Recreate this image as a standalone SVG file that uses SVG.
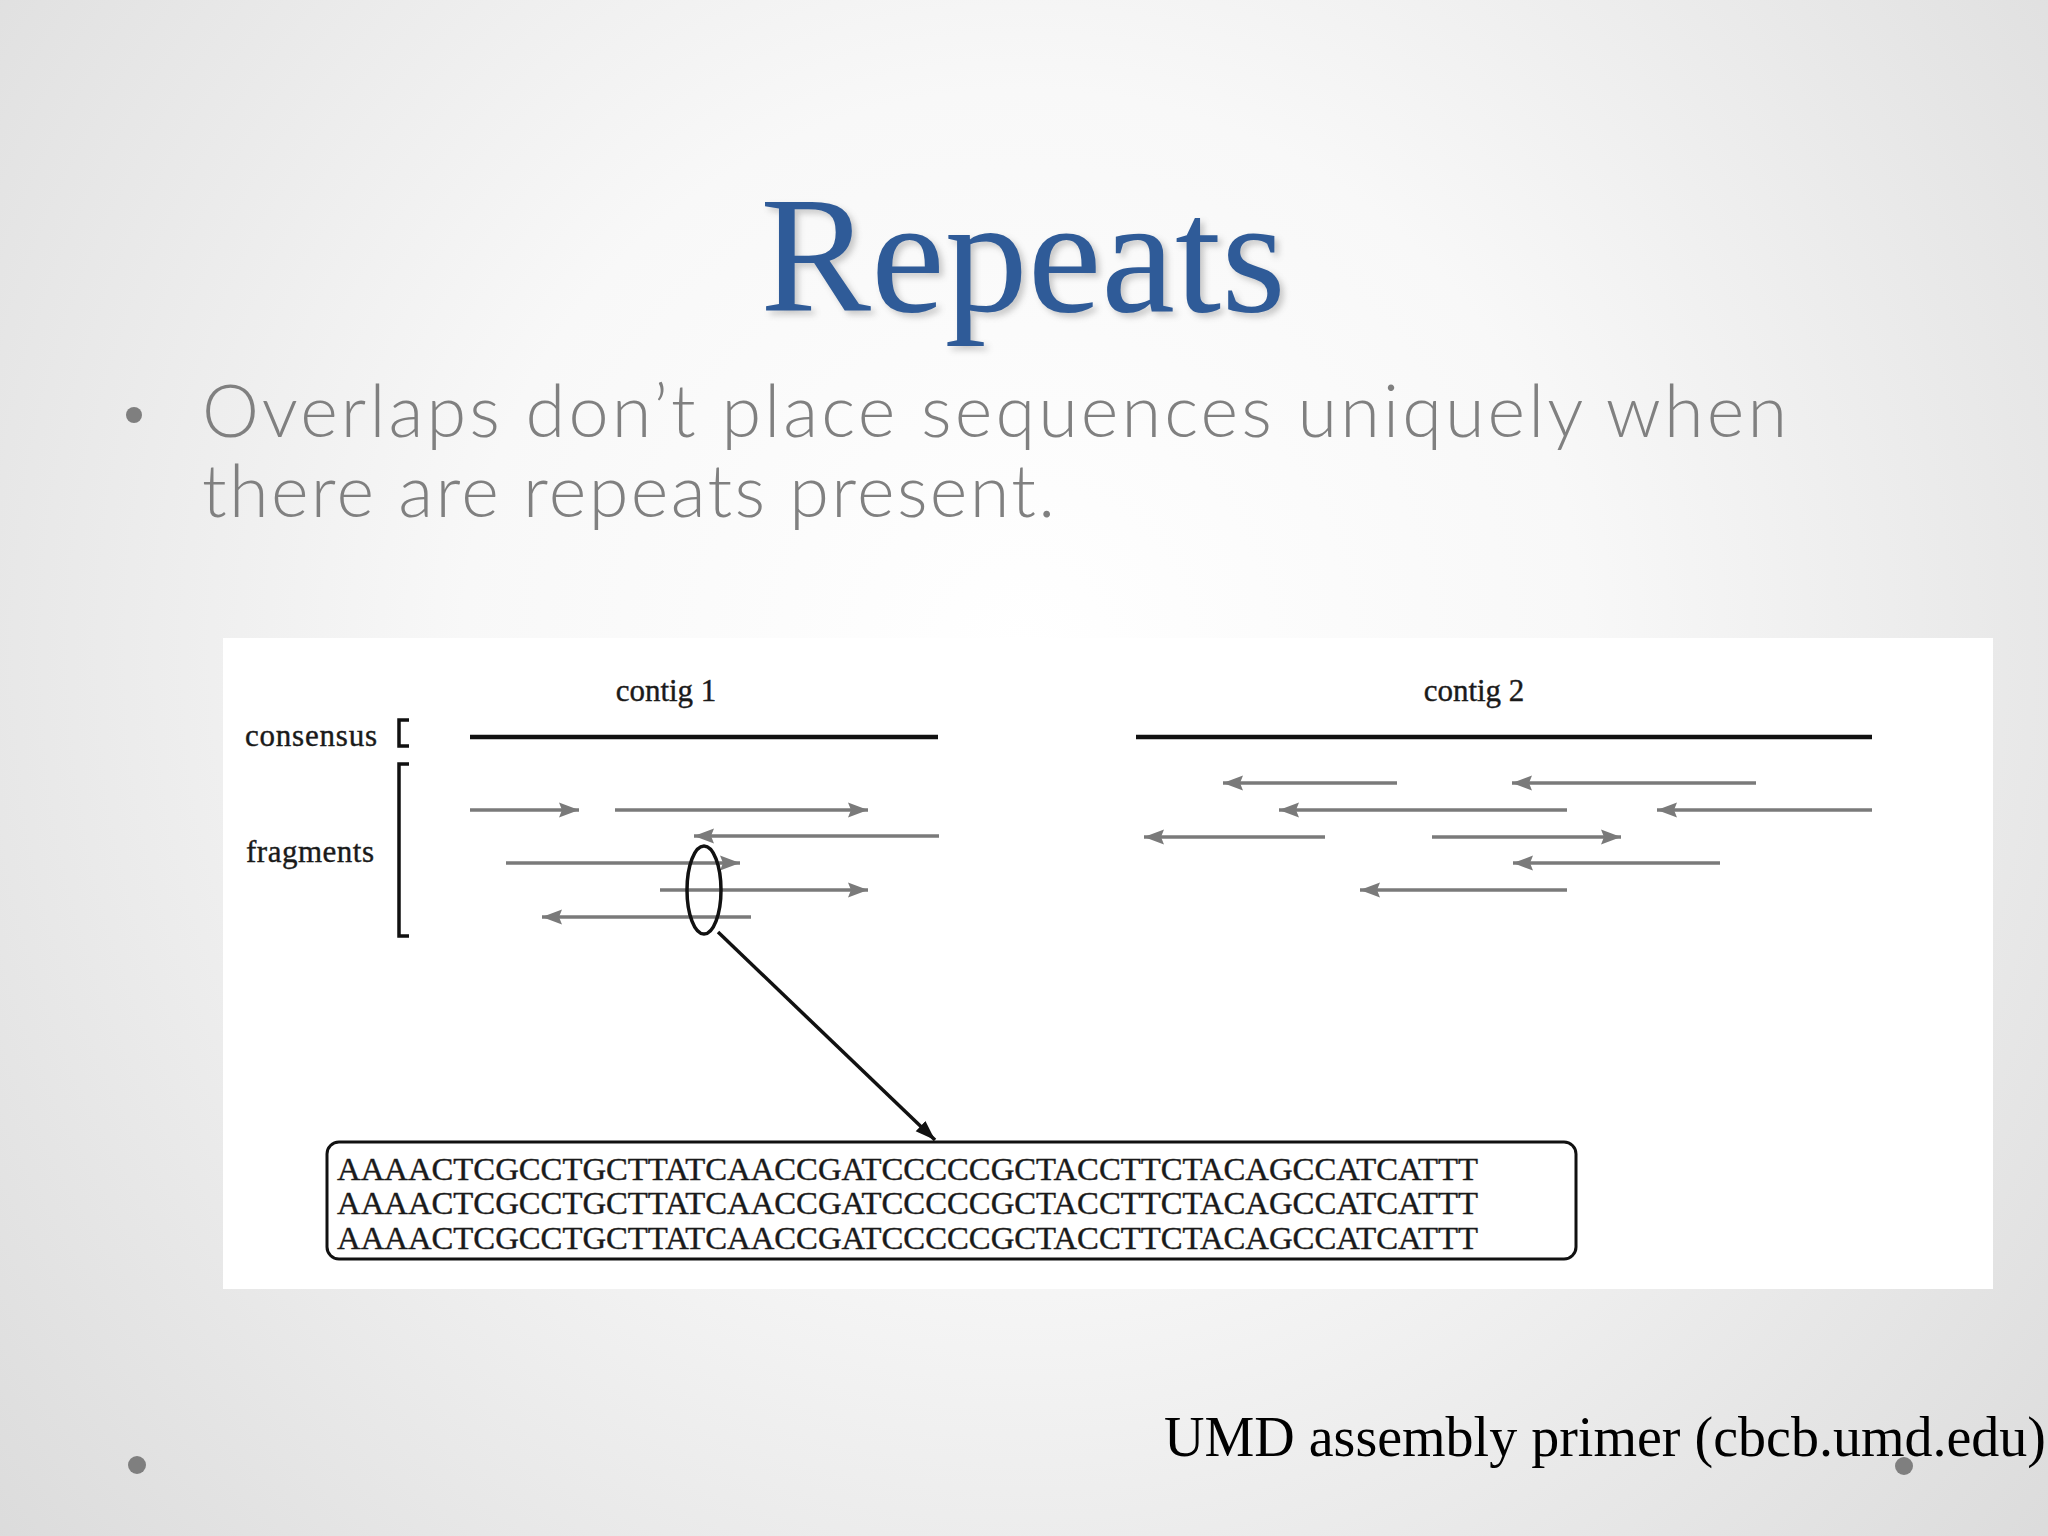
<svg xmlns="http://www.w3.org/2000/svg" width="2048" height="1536" viewBox="0 0 2048 1536">
  <defs>
    <radialGradient id="bg" cx="1024" cy="650" r="1400" gradientUnits="userSpaceOnUse">
      <stop offset="0" stop-color="#ffffff"/>
      <stop offset="0.4" stop-color="#f8f8f8"/>
      <stop offset="1" stop-color="#dadada"/>
    </radialGradient>
    <filter id="shadow" x="-10%" y="-20%" width="120%" height="140%">
      <feGaussianBlur stdDeviation="3"/>
    </filter>
    <marker id="gh" markerUnits="userSpaceOnUse" markerWidth="22" markerHeight="18" refX="20" refY="9" orient="auto">
      <path d="M0,1.5 L20,9 L0,16.5 L3,9 z" fill="#7a7a7a"/>
    </marker>
    <marker id="bh" markerUnits="userSpaceOnUse" markerWidth="22" markerHeight="18" refX="20" refY="9" orient="auto">
      <path d="M0,2 L20,9 L0,16 z" fill="#111"/>
    </marker>
  </defs>
  <style>
    .title { font-family: "Liberation Serif", "DejaVu Serif", serif; font-size: 166px; fill: #2f5b98; }
    .tshadow { font-family: "Liberation Serif", "DejaVu Serif", serif; font-size: 166px; fill: #8a8a8a; opacity: 0.45; }
    .bullet { font-family: "Lato", "Open Sans", "DejaVu Sans", sans-serif; font-weight: 300; font-size: 72px; fill: #808080; }
    .lbl { font-family: "Liberation Serif", "DejaVu Serif", serif; font-size: 31px; fill: #1a1a1a; stroke: #1a1a1a; stroke-width: 0.4; }
    .seq { font-family: "Liberation Serif", "DejaVu Serif", serif; font-size: 32px; fill: #1a1a1a; stroke: #1a1a1a; stroke-width: 0.4; }
    .foot { font-family: "Liberation Serif", "DejaVu Serif", serif; font-size: 56px; fill: #000; }
    .frag { stroke: #7a7a7a; stroke-width: 3.5; fill: none; marker-end: url(#gh); }
    .cons { stroke: #111; stroke-width: 4.5; }
    .brk { stroke: #111; stroke-width: 3.5; fill: none; }
    .dot { fill: #7f7f7f; }
  </style>

  <rect x="0" y="0" width="2048" height="1536" fill="url(#bg)"/>

  <g id="title">
    <text class="tshadow" x="1027" y="315" text-anchor="middle" filter="url(#shadow)">Repeats</text>
    <text class="title" x="1023" y="311" text-anchor="middle">Repeats</text>
  </g>

  <g id="bullet">
    <circle class="dot" cx="134" cy="415" r="8"/>
    <text class="bullet" x="202" y="437" textLength="1585">Overlaps don’t place sequences uniquely when</text>
    <text class="bullet" x="202" y="517" textLength="853">there are repeats present.</text>
  </g>

  <g id="figure">
    <rect x="223" y="638" width="1770" height="651" fill="#ffffff"/>
  </g>

  <g id="labels">
    <text class="lbl" x="666" y="701" text-anchor="middle">contig 1</text>
    <text class="lbl" x="1474" y="701" text-anchor="middle">contig 2</text>
    <text class="lbl" x="245" y="746" textLength="132">consensus</text>
    <text class="lbl" x="246" y="862" textLength="128">fragments</text>
  </g>

  <g id="brackets">
    <path class="brk" d="M409,720 L399,720 L399,746 L409,746"/>
    <path class="brk" d="M409,764 L399,764 L399,936 L409,936"/>
  </g>

  <g id="contig1">
    <line class="cons" x1="470" y1="737" x2="938" y2="737"/>
    <line class="frag" x1="470" y1="810" x2="579" y2="810"/>
    <line class="frag" x1="615" y1="810" x2="868" y2="810"/>
    <line class="frag" x1="939" y1="836" x2="694" y2="836"/>
    <line class="frag" x1="506" y1="863" x2="740" y2="863"/>
    <line class="frag" x1="660" y1="890" x2="868" y2="890"/>
    <line class="frag" x1="751" y1="917" x2="542" y2="917"/>
    <ellipse cx="704" cy="890" rx="17" ry="44" fill="none" stroke="#111" stroke-width="3.5"/>
  </g>

  <g id="contig2">
    <line class="cons" x1="1136" y1="737" x2="1872" y2="737"/>
    <line class="frag" x1="1397" y1="783" x2="1223" y2="783"/>
    <line class="frag" x1="1756" y1="783" x2="1512" y2="783"/>
    <line class="frag" x1="1567" y1="810" x2="1279" y2="810"/>
    <line class="frag" x1="1872" y1="810" x2="1657" y2="810"/>
    <line class="frag" x1="1325" y1="837" x2="1144" y2="837"/>
    <line class="frag" x1="1432" y1="837" x2="1621" y2="837"/>
    <line class="frag" x1="1720" y1="863" x2="1513" y2="863"/>
    <line class="frag" x1="1567" y1="890" x2="1360" y2="890"/>
  </g>

  <g id="connectors">
    <line x1="718" y1="932" x2="935" y2="1140" stroke="#111" stroke-width="3.5" marker-end="url(#bh)"/>
  </g>

  <g id="sequence-box">
    <rect x="327" y="1142" width="1249" height="117" rx="12" ry="12" fill="#ffffff" stroke="#111" stroke-width="3"/>
    <text class="seq" x="337" y="1180" textLength="1141" lengthAdjust="spacingAndGlyphs">AAAACTCGCCTGCTTATCAACCGATCCCCCGCTACCTTCTACAGCCATCATTT</text>
    <text class="seq" x="337" y="1214" textLength="1141" lengthAdjust="spacingAndGlyphs">AAAACTCGCCTGCTTATCAACCGATCCCCCGCTACCTTCTACAGCCATCATTT</text>
    <text class="seq" x="337" y="1249" textLength="1141" lengthAdjust="spacingAndGlyphs">AAAACTCGCCTGCTTATCAACCGATCCCCCGCTACCTTCTACAGCCATCATTT</text>
  </g>

  <g id="footer">
    <text class="foot" x="1164" y="1456" textLength="882">UMD assembly primer (cbcb.umd.edu)</text>
    <circle class="dot" cx="137" cy="1465" r="9"/>
    <circle class="dot" cx="1904" cy="1466" r="9"/>
  </g>
</svg>
